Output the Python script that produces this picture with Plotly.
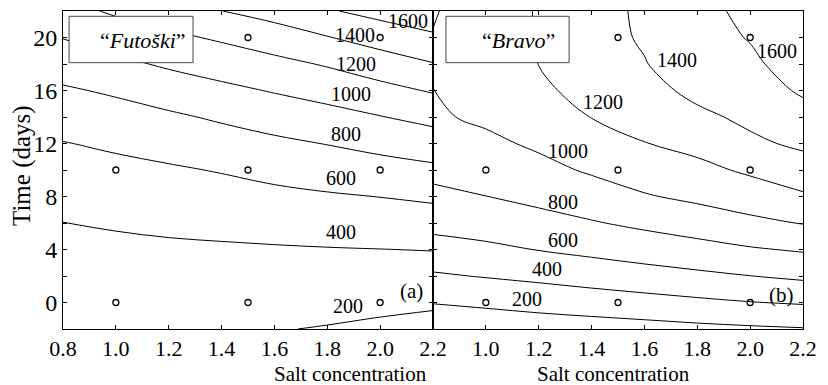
import plotly.graph_objects as go

# ---- data ----
SALT = [0.8, 1.0, 1.2, 1.4, 1.6, 1.8, 2.0, 2.2]          # salt concentration grid
TIME = [-2, 0, 2, 4, 6, 8, 10, 12, 14, 16, 18, 20, 22]     # time (days) grid

# response surface values (rows = TIME, columns = SALT), "Futoški"
Z_FUTOSKI = [
    [240, 235, 228, 220, 208, 190, 165, 138],
    [280, 279, 276, 273, 267, 257, 243, 227],
    [319, 322, 325, 326, 326, 324, 320, 316],
    [358, 366, 373, 379, 385, 392, 398, 405],
    [398, 415, 433, 448, 467, 484, 500, 515],
    [462, 484, 505, 528, 556, 581, 603, 630],
    [528, 552, 578, 611, 654, 691, 726, 761],
    [593, 629, 670, 716, 762, 806, 855, 904],
    [684, 724, 770, 826, 884, 935, 993, 1056],
    [777, 826, 893, 955, 1013, 1071, 1141, 1217],
    [888, 955, 1027, 1087, 1147, 1217, 1304, 1391],
    [1006, 1090, 1160, 1226, 1304, 1391, 1482, 1565],
    [1135, 1228, 1304, 1398, 1475, 1581, 1664, 1739],
]

# response surface values (rows = TIME, columns = SALT), "Bravo"
Z_BRAVO = [
    [21, 60, 94, 110, 130, 153, 172, 189],
    [209, 239, 268, 300, 330, 363, 394, 417],
    [377, 411, 445, 484, 524, 561, 598, 636],
    [526, 562, 606, 648, 691, 733, 782, 819],
    [656, 686, 735, 786, 840, 896, 957, 1008],
    [755, 798, 849, 909, 985, 1039, 1097, 1175],
    [850, 880, 946, 1023, 1092, 1150, 1230, 1313],
    [925, 960, 1030, 1114, 1195, 1256, 1365, 1434],
    [975, 1033, 1100, 1204, 1265, 1359, 1440, 1532],
    [998, 1065, 1160, 1270, 1335, 1448, 1510, 1625],
    [1012, 1090, 1202, 1315, 1392, 1500, 1565, 1690],
    [1008, 1105, 1212, 1338, 1418, 1530, 1610, 1735],
    [985, 1110, 1212, 1345, 1425, 1545, 1645, 1760],
]

# experimental design points
POINT_SALT = [1.0, 1.5, 2.0, 1.0, 1.5, 2.0, 1.0, 1.5, 2.0]
POINT_TIME = [0, 0, 0, 10, 10, 10, 20, 20, 20]

LEVELS = [200, 400, 600, 800, 1000, 1200, 1400, 1600]
X_TICKS = [0.8, 1.0, 1.2, 1.4, 1.6, 1.8, 2.0, 2.2]
X_TICKTEXT_LEFT = ["0.8", "1.0", "1.2", "1.4", "1.6", "1.8", "2.0", "2.2"]
X_TICKTEXT_RIGHT = ["", "1.0", "1.2", "1.4", "1.6", "1.8", "2.0", "2.2"]
Y_TICKS = [0, 2, 4, 6, 8, 10, 12, 14, 16, 18, 20]
Y_TICKTEXT = ["0", "", "4", "", "8", "", "12", "", "16", "", "20"]

# contour label placement (layout, per panel, in data coordinates)
LABEL_POS_LEFT = [(1.88, -0.25), (1.85, 5.3), (1.85, 9.4), (1.87, 12.7),
                  (1.89, 15.7), (1.91, 18.0), (1.905, 20.2), (2.105, 21.25)]
LABEL_POS_RIGHT = [(1.156, 0.3), (1.23, 2.5), (1.29, 4.7), (1.29, 7.55),
                   (1.31, 11.4), (1.443, 15.1), (1.723, 18.3), (2.10, 19.0)]

FONT = "Liberation Serif"

fig = go.Figure()

for z, xa, ya in [(Z_FUTOSKI, "x", "y"), (Z_BRAVO, "x2", "y2")]:
    fig.add_trace(go.Contour(
        x=SALT, y=TIME, z=z,
        contours=dict(coloring="none", start=LEVELS[0], end=LEVELS[-1],
                      size=LEVELS[1] - LEVELS[0], showlabels=False),
        line=dict(color="black", width=1, smoothing=1),
        showscale=False, hoverinfo="skip", xaxis=xa, yaxis=ya))
    fig.add_trace(go.Scatter(
        x=POINT_SALT, y=POINT_TIME, mode="markers",
        marker=dict(symbol="circle-open", size=6, color="black",
                    line=dict(width=1.3, color="black")),
        showlegend=False, xaxis=xa, yaxis=ya))

axis_common = dict(showgrid=False, zeroline=False, showline=True, linecolor="black",
                   linewidth=1, mirror="ticks", ticks="inside", ticklen=4,
                   tickwidth=1.3, tickcolor="black", automargin=False)

# the page body adds an 8px offset; size and margins compensate for it
fig.update_layout(
    width=820, height=377,
    margin=dict(l=55, r=25, t=3, b=56),
    paper_bgcolor="white", plot_bgcolor="white",
    showlegend=False,
    font=dict(family=FONT, color="black"),
    xaxis=dict(domain=[0, 0.5], range=[0.8, 2.2], tickvals=X_TICKS,
               ticktext=X_TICKTEXT_LEFT, tickfont=dict(size=22, family=FONT),
               anchor="y", **axis_common),
    yaxis=dict(domain=[0, 1], range=[-2, 22], tickvals=Y_TICKS,
               ticktext=Y_TICKTEXT, tickfont=dict(size=24, family=FONT),
               anchor="x", **axis_common),
    xaxis2=dict(domain=[0.5, 1], range=[0.8, 2.2], tickvals=X_TICKS,
                ticktext=X_TICKTEXT_RIGHT, tickfont=dict(size=22, family=FONT),
                anchor="y2", **axis_common),
    yaxis2=dict(domain=[0, 1], range=[-2, 22], tickvals=Y_TICKS,
                showticklabels=False, anchor="x2", **axis_common),
)

annotations = []
for (lx, ly), lev in zip(LABEL_POS_LEFT, LEVELS):
    annotations.append(dict(x=lx, y=ly, xref="x", yref="y", text=str(lev),
                            showarrow=False, font=dict(size=20, family=FONT)))
for (lx, ly), lev in zip(LABEL_POS_RIGHT, LEVELS):
    annotations.append(dict(x=lx, y=ly, xref="x2", yref="y2", text=str(lev),
                            showarrow=False, font=dict(size=20, family=FONT)))

annotations += [
    dict(x=2.12, y=0.85, xref="x", yref="y", text="(a)", showarrow=False,
         font=dict(size=21, family=FONT)),
    dict(x=2.12, y=0.6, xref="x2", yref="y2", text="(b)", showarrow=False,
         font=dict(size=21, family=FONT)),
    dict(x=1.103, y=19.75, xref="x", yref="y", text="“<i>Futoški</i>”",
         showarrow=False, font=dict(size=22, family=FONT)),
    dict(x=1.122, y=19.75, xref="x2", yref="y2", text="“<i>Bravo</i>”",
         showarrow=False, font=dict(size=22, family=FONT)),
    dict(x=0.2824, y=-0.1415, xref="paper", yref="paper", text="Salt concentration",
         showarrow=False, yanchor="middle", font=dict(size=21, family=FONT)),
    dict(x=0.85, y=-0.1415, xref="paper", yref="paper", text="Salt concentration",
         showarrow=False, yanchor="middle", font=dict(size=21, family=FONT)),
    dict(x=-0.0554, y=0.5126, xref="paper", yref="paper", text="Time (days)",
         textangle=-90, showarrow=False, xanchor="center", yanchor="middle",
         font=dict(size=25, family=FONT)),
]
fig.update_layout(annotations=annotations)

fig.update_layout(shapes=[
    dict(type="rect", xref="x", yref="y", x0=0.823, x1=1.292, y0=18.1, y1=21.6,
         fillcolor="white", line=dict(color="#444", width=1), layer="above"),
    dict(type="rect", xref="x2", yref="y2", x0=0.849, x1=1.315, y0=18.1, y1=21.6,
         fillcolor="white", line=dict(color="#444", width=1), layer="above"),
])

fig.write_html("out.html")
